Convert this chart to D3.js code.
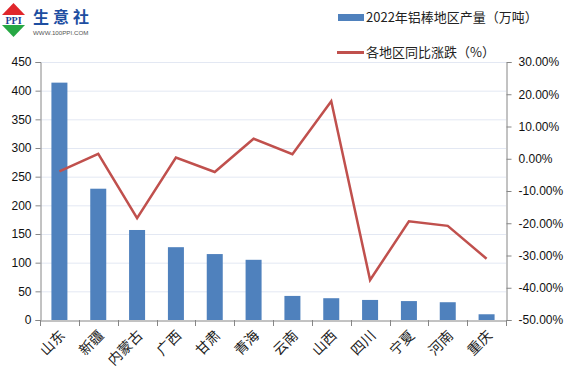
<!DOCTYPE html>
<html>
<head>
<meta charset="utf-8">
<script src="https://cdn.jsdelivr.net/npm/d3@7"></script>
<style>
  body { margin: 0; background: #fff; }
  svg text { font-family: "Liberation Sans", "DejaVu Sans", sans-serif; }
</style>
</head>
<body>
<svg id="chart" width="585" height="378"></svg>
<script>
// data
const provinces = ["山东", "新疆", "内蒙古", "广西", "甘肃", "青海", "云南", "山西", "四川", "宁夏", "河南", "重庆"];
const output2022 = [414, 229, 157, 127, 115, 105, 42, 38, 35, 33, 31, 10];
const yoyChange = [-3.9, 1.5, -18.4, 0.4, -4.1, 6.2, 1.4, 17.8, -37.6, -19.4, -20.8, -31.0];
const leftTicks = [0, 50, 100, 150, 200, 250, 300, 350, 400, 450];
const rightTicks = [-50, -40, -30, -20, -10, 0, 10, 20, 30];

const barLegend = "2022年铝棒地区产量（万吨）";
const lineLegend = "各地区同比涨跌（%）";

const barColor = "#4f81bd", lineColor = "#c0504d", axisColor = "#868686", gridColor = "#e3e8f3";

const svg = d3.select("#chart");
const plot = { left: 40, right: 506, top: 62, bottom: 320 };

let x = d3.scaleBand().domain(provinces).range([plot.left, plot.right]);
let y = d3.scaleLinear().domain([0, 450]).range([plot.bottom, plot.top]);
let y2 = d3.scaleLinear().domain([-50, 30]).range([plot.bottom, plot.top]);

// gridlines
svg.append("g").selectAll("line")
  .data(leftTicks.slice(1))
  .enter().append("line")
    .attr("x1", plot.left).attr("x2", plot.right)
    .attr("y1", d => y(d) + 0.5).attr("y2", d => y(d) + 0.5)
    .attr("stroke", gridColor).attr("stroke-width", 1);

// bars
svg.append("g").selectAll("rect")
  .data(provinces)
  .enter().append("rect")
    .attr("x", d => x(d) + x.bandwidth() / 2 - 8)
    .attr("width", 16)
    .attr("y", (d, i) => y(output2022[i]))
    .attr("height", (d, i) => plot.bottom - y(output2022[i]))
    .attr("fill", barColor);

// line
let line = d3.line()
  .x((d, i) => x(provinces[i]) + x.bandwidth() / 2)
  .y(d => y2(d));

svg.append("path")
  .datum(yoyChange)
  .attr("d", line)
  .attr("fill", "none")
  .attr("stroke", lineColor)
  .attr("stroke-width", 2.5)
  .attr("stroke-linejoin", "miter");

// left axis
let axL = svg.append("g")
  .attr("transform", "translate(" + (plot.left + 0.5) + ",0)")
  .call(d3.axisLeft(y).tickValues(leftTicks).tickSize(5).tickPadding(4));
axL.selectAll("text").attr("font-size", 12).attr("fill", "#111");

// right axis
let axR = svg.append("g")
  .attr("transform", "translate(" + (plot.right + 0.5) + ",0)")
  .call(d3.axisRight(y2).tickValues(rightTicks).tickSize(5).tickPadding(7)
        .tickFormat(d => d.toFixed(2) + "%"));
axR.selectAll("text").attr("font-size", 12).attr("fill", "#111");

// bottom axis, ticks at category boundaries
let axB = svg.append("g")
  .attr("transform", "translate(0," + (plot.bottom + 0.5) + ")")
  .call(d3.axisBottom(x).tickSize(0).tickPadding(0).tickFormat(""));

svg.append("g").selectAll("line")
  .data(provinces)
  .enter().append("line")
    .attr("x1", d => Math.round(x(d)) + 0.5).attr("x2", d => Math.round(x(d)) + 0.5)
    .attr("y1", plot.bottom).attr("y2", plot.bottom + 6)
    .attr("stroke", axisColor);
svg.append("line")
  .attr("x1", plot.right + 0.5).attr("x2", plot.right + 0.5)
  .attr("y1", plot.bottom).attr("y2", plot.bottom + 6)
  .attr("stroke", axisColor);

[axL, axR, axB].forEach(a => {
  a.selectAll("path.domain").attr("stroke", axisColor);
  a.selectAll(".tick line").attr("stroke", axisColor);
});

// rotated category labels
svg.append("g").selectAll("text")
  .data(provinces)
  .enter().append("text")
    .attr("transform", d => "translate(" + (x(d) + x.bandwidth() / 2 + 3) + "," + (plot.bottom + 13) + ") rotate(-45)")
    .attr("text-anchor", "end")
    .attr("dy", "0.35em")
    .attr("font-size", 14)
    .attr("fill", "#222")
    .style("font-family", "'Noto Sans CJK SC', sans-serif")
    .text(d => d);

// legend
svg.append("rect").attr("x", 338).attr("y", 14).attr("width", 26).attr("height", 7).attr("fill", barColor);
svg.append("text").attr("x", 366).attr("y", 22).attr("font-size", 13).attr("fill", "#222")
  .style("font-family", "'Noto Sans CJK SC', sans-serif").text(barLegend);
svg.append("line").attr("x1", 337).attr("x2", 364).attr("y1", 52.5).attr("y2", 52.5)
  .attr("stroke", lineColor).attr("stroke-width", 3);
svg.append("text").attr("x", 366).attr("y", 57).attr("font-size", 13).attr("fill", "#222")
  .style("font-family", "'Noto Sans CJK SC', sans-serif").text(lineLegend);

// logo
let logo = svg.append("g");
logo.append("path").attr("d", "M13.5,3 L25,15 L2,15 Z").attr("fill", "#e0262b");
logo.append("path").attr("d", "M2,25 L25,25 L13.5,37 Z").attr("fill", "#27a844");
logo.append("rect").attr("x", 2).attr("y", 15).attr("width", 23).attr("height", 10).attr("fill", "#fff");
logo.append("text").attr("x", 13.5).attr("y", 24).attr("text-anchor", "middle")
  .attr("font-size", 10).attr("font-weight", "bold").attr("fill", "#1d3f95")
  .style("font-family", "'Liberation Serif', serif").text("PPI");
logo.append("text").attr("x", 33).attr("y", 23).attr("font-size", 16).attr("font-weight", "bold")
  .attr("fill", "#1d4ea1").attr("letter-spacing", 4)
  .style("font-family", "'Noto Sans CJK SC', sans-serif").text("生意社");
logo.append("text").attr("x", 33).attr("y", 35).attr("font-size", 6.2).attr("fill", "#555")
  .text("WWW.100PPI.COM");
</script>
</body>
</html>
